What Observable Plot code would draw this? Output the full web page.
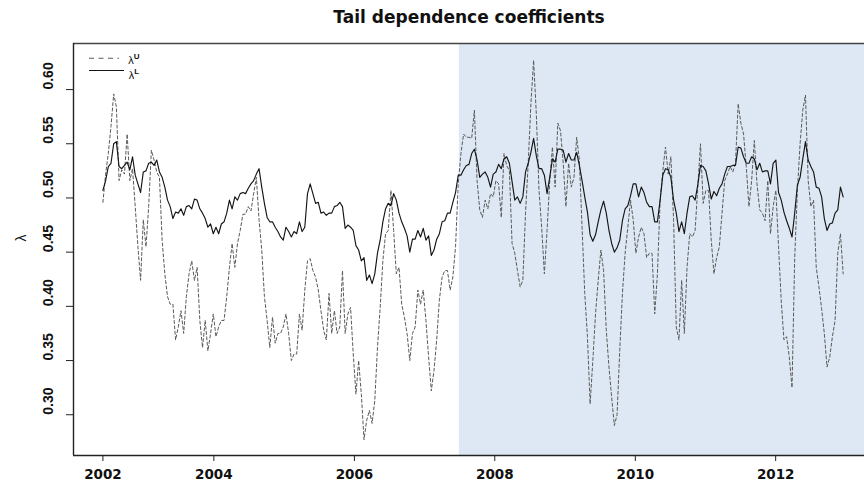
<!DOCTYPE html>
<html>
<head>
<meta charset="utf-8">
<script src="https://cdn.jsdelivr.net/npm/d3@7"></script>
<script src="https://cdn.jsdelivr.net/npm/@observablehq/plot@0.6"></script>
<style>
  html, body { margin: 0; padding: 0; background: #fff; overflow: hidden; }
  #wrap { position: relative; width: 864px; height: 484px; overflow: hidden; }
  #title {
    position: absolute; left: 0; top: 7px; width: 938px; text-align: center;
    font: bold 17px "DejaVu Sans", sans-serif; line-height: 20px; color: #111;
  }
  #chart { position: absolute; left: 0; top: 30px; }
</style>
</head>
<body>
<div id="wrap">
  <div id="title">Tail dependence coefficients</div>
  <div id="chart"></div>
</div>
<script>
// Observations are two weeks apart, starting in early June 2002
const startDate = new Date(Date.UTC(2002, 5, 3));
const stepDays = 14;

// Lower tail dependence coefficient (solid line)
const lambdaL = [
  0.507,0.516,0.529,0.532,0.550,0.552,0.529,0.527,0.530,0.533,
  0.526,0.538,0.521,0.513,0.505,0.524,0.525,0.532,0.533,0.530,
  0.535,0.524,0.519,0.510,0.498,0.492,0.481,0.487,0.486,0.490,
  0.484,0.492,0.493,0.490,0.499,0.498,0.490,0.486,0.481,0.473,
  0.476,0.467,0.473,0.467,0.476,0.478,0.486,0.498,0.490,0.501,
  0.498,0.504,0.505,0.504,0.509,0.513,0.516,0.522,0.527,0.510,
  0.495,0.482,0.478,0.478,0.473,0.469,0.464,0.461,0.473,0.469,
  0.464,0.469,0.467,0.478,0.469,0.473,0.504,0.513,0.504,0.495,
  0.496,0.486,0.487,0.484,0.486,0.486,0.492,0.493,0.496,0.492,
  0.472,0.475,0.473,0.470,0.456,0.452,0.442,0.445,0.424,0.429,
  0.421,0.430,0.449,0.461,0.478,0.490,0.495,0.493,0.504,0.498,
  0.486,0.478,0.472,0.465,0.450,0.462,0.462,0.470,0.464,0.472,
  0.461,0.465,0.447,0.452,0.462,0.467,0.478,0.479,0.486,0.486,
  0.496,0.505,0.521,
  0.521,0.526,0.530,0.531,0.541,0.545,0.535,0.519,0.522,0.524,
  0.519,0.510,0.522,0.524,0.531,0.527,0.536,0.538,0.532,0.515,
  0.498,0.501,0.495,0.501,0.524,0.532,0.542,0.555,0.539,0.527,
  0.527,0.521,0.504,0.519,0.536,0.533,0.545,0.545,0.544,0.533,
  0.541,0.535,0.535,0.542,0.530,0.516,0.501,0.487,0.466,0.460,
  0.466,0.478,0.489,0.497,0.486,0.470,0.458,0.450,0.454,0.461,
  0.479,0.490,0.493,0.502,0.513,0.513,0.501,0.510,0.505,0.496,
  0.492,0.492,0.478,0.478,0.498,0.521,0.527,0.526,0.519,0.498,
  0.486,0.469,0.478,0.467,0.486,0.501,0.502,0.498,0.512,0.530,
  0.529,0.525,0.513,0.499,0.506,0.502,0.509,0.513,0.522,0.529,
  0.529,0.530,0.530,0.547,0.546,0.538,0.532,0.532,0.538,0.536,
  0.526,0.532,0.524,0.525,0.525,0.513,0.532,0.535,0.505,0.498,
  0.487,0.479,0.472,0.464,0.486,0.512,0.519,0.536,0.552,0.535,
  0.529,0.524,0.510,0.509,0.501,0.481,0.470,0.476,0.477,0.486,
  0.489,0.510,0.501
];

// Upper tail dependence coefficient (dashed line)
const lambdaU = [
  0.496,0.522,0.541,0.566,0.596,0.584,0.516,0.526,0.522,0.559,
  0.516,0.527,0.492,0.455,0.424,0.480,0.455,0.492,0.544,0.535,
  0.524,0.519,0.461,0.430,0.409,0.402,0.402,0.369,0.381,0.396,
  0.375,0.409,0.430,0.442,0.424,0.436,0.387,0.362,0.387,0.359,
  0.375,0.393,0.372,0.381,0.387,0.387,0.409,0.436,0.458,0.436,
  0.458,0.470,0.485,0.485,0.492,0.488,0.504,0.519,0.480,0.452,
  0.409,0.387,0.362,0.390,0.366,0.375,0.375,0.381,0.393,0.375,
  0.350,0.356,0.356,0.393,0.378,0.415,0.442,0.444,0.433,0.427,
  0.415,0.396,0.378,0.369,0.412,0.375,0.396,0.375,0.381,0.433,
  0.375,0.393,0.399,0.356,0.319,0.350,0.319,0.277,0.295,0.304,
  0.292,0.313,0.362,0.399,0.442,0.467,0.470,0.507,0.470,0.430,
  0.436,0.402,0.390,0.375,0.350,0.375,0.381,0.415,0.402,0.415,
  0.387,0.353,0.322,0.341,0.369,0.406,0.427,0.433,0.433,0.415,
  0.427,0.455,0.513,
  0.541,0.559,0.556,0.556,0.555,0.581,0.516,0.489,0.482,0.498,
  0.490,0.504,0.501,0.516,0.513,0.482,0.541,0.530,0.525,0.458,
  0.449,0.433,0.418,0.424,0.486,0.532,0.587,0.627,0.578,0.507,
  0.473,0.430,0.470,0.516,0.547,0.510,0.569,0.562,0.532,0.492,
  0.532,0.510,0.519,0.556,0.535,0.473,0.412,0.372,0.310,0.350,
  0.393,0.424,0.452,0.433,0.378,0.344,0.316,0.290,0.300,0.359,
  0.412,0.449,0.473,0.498,0.480,0.449,0.464,0.473,0.467,0.445,
  0.449,0.449,0.393,0.430,0.498,0.525,0.547,0.522,0.538,0.480,
  0.381,0.369,0.424,0.375,0.436,0.467,0.464,0.470,0.510,0.550,
  0.495,0.507,0.507,0.461,0.430,0.445,0.455,0.486,0.516,0.522,
  0.529,0.524,0.532,0.587,0.569,0.559,0.529,0.492,0.516,0.553,
  0.513,0.489,0.486,0.479,0.516,0.467,0.492,0.507,0.455,0.405,
  0.369,0.372,0.353,0.325,0.445,0.507,0.550,0.581,0.595,0.516,
  0.492,0.498,0.436,0.418,0.398,0.375,0.344,0.353,0.372,0.387,
  0.449,0.467,0.430
];

// Second sub-period (shaded) begins in July 2007
const shadeStart = new Date(Date.UTC(2007, 6, 1));

// Axis ticks
const xTickYears = [2004, 2006, 2008, 2010, 2012];
const yTicks = [0.30, 0.35, 0.40, 0.45, 0.50, 0.55, 0.60];

// Scale extents
const xDomain = [new Date(Date.UTC(2002, 0, 1)), new Date(Date.UTC(2013, 3, 7))];
const yDomain = [0.2624, 0.6425];

const dateAt = i => d3.utcDay.offset(startDate, i * stepDays);
const seriesU = lambdaU.map((v, i) => ({date: dateAt(i), value: v}));
const seriesL = lambdaL.map((v, i) => ({date: dateAt(i), value: v}));
const xTicks = [startDate, ...xTickYears.map(y => new Date(Date.UTC(y, 0, 1)))];

const chart = Plot.plot({
  width: 864,
  height: 454,
  marginLeft: 73,
  marginRight: 0,
  marginTop: 13,
  marginBottom: 29,
  style: {background: "transparent", overflow: "hidden"},
  x: {type: "utc", domain: xDomain},
  y: {domain: yDomain},
  marks: [
    Plot.rect([{x1: shadeStart, x2: xDomain[1]}], {
      x1: "x1", x2: "x2", y1: yDomain[0], y2: yDomain[1], fill: "#dde8f4"
    }),
    Plot.line(seriesU, {
      x: "date", y: "value", stroke: "#5a5a5a", strokeWidth: 1,
      strokeDasharray: "3,2.4", curve: "linear"
    }),
    Plot.line(seriesL, {
      x: "date", y: "value", stroke: "#151515", strokeWidth: 1.15, curve: "linear"
    }),
    // box on three sides
    Plot.ruleY([yDomain[0]], {stroke: "#222", strokeWidth: 1.4}),
    Plot.ruleY([yDomain[1]], {stroke: "#444", strokeWidth: 1.4}),
    Plot.ruleX([xDomain[0]], {stroke: "#222", strokeWidth: 1.4}),
    Plot.axisX({
      ticks: xTicks, tickFormat: d3.utcFormat("%Y"), tickSize: 6, tickPadding: 8,
      stroke: "#222", fill: "#111", fontSize: 13.5, fontWeight: "bold",
      fontFamily: "DejaVu Sans", label: null
    }),
    Plot.axisY({
      ticks: yTicks, tickSize: 7, tickFormat: () => "", stroke: "#222", label: null
    }),
    Plot.text(yTicks, {
      y: d => d, frameAnchor: "left", dx: -24.5, rotate: -90,
      text: d => d.toFixed(2), fontSize: 14, fontWeight: "bold",
      fontFamily: "Liberation Sans", fill: "#111"
    }),
    Plot.text(["λ"], {
      frameAnchor: "left", dx: -52, dy: -8, rotate: -90,
      fontSize: 14, fontFamily: "Liberation Sans", fill: "#111"
    })
  ]
});

document.getElementById("chart").appendChild(chart);

// Legend in the upper-left corner of the panel
const svg = d3.select(chart);
const legend = svg.append("g")
  .attr("font-family", "Liberation Sans")
  .attr("fill", "#111");
const items = [
  {sup: "U", dash: "5,4.5", stroke: "#5a5a5a", y: 28.3, x2: 119, base: 33.5},
  {sup: "L", dash: null, stroke: "#151515", y: 40.5, x2: 124, base: 48.5}
];
items.forEach(it => {
  legend.append("line")
    .attr("x1", 89).attr("x2", it.x2).attr("y1", it.y).attr("y2", it.y)
    .attr("stroke", it.stroke).attr("stroke-width", 1.1)
    .attr("stroke-dasharray", it.dash);
  const t = legend.append("text").attr("x", 134).attr("y", it.base)
    .attr("font-size", 11);
  t.append("tspan").text("λ");
  t.append("tspan").attr("dy", -5).attr("font-size", 8)
    .attr("font-weight", "bold").text(it.sup);
});
</script>
</body>
</html>
